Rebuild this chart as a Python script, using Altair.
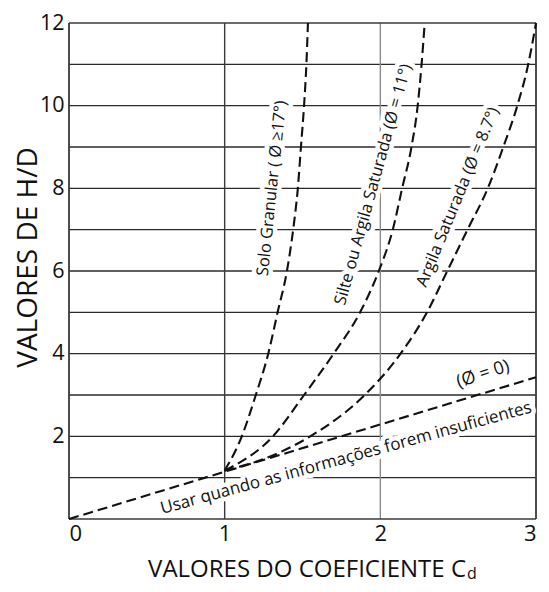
import altair as alt
import pandas as pd

# ---- data ----
solo_x = [1.00, 1.11, 1.20, 1.28, 1.34, 1.40, 1.44, 1.47, 1.49, 1.51, 1.525, 1.535]
solo_y = [1.17, 2, 3, 4, 5, 6, 7, 8, 9, 10, 11, 12]
silte_x = [1.00, 1.31, 1.51, 1.70, 1.87, 1.99, 2.08, 2.14, 2.20, 2.24, 2.265, 2.285]
silte_y = [1.17, 2, 3, 4, 5, 6, 7, 8, 9, 10, 11, 12]
argila_x = [1.00, 1.25, 1.55, 1.90, 2.13, 2.30, 2.43, 2.56, 2.69, 2.79, 2.88, 2.95, 3.00]
argila_y = [1.17, 1.45, 2, 3, 4, 5, 6, 7, 8, 9, 10, 11, 12]
zero_x = [0.0, 3.0]
zero_y = [0.0, 3.43]

h_grid = [1, 2, 3, 4, 5, 6, 7, 8, 9, 10, 11]
v_grid = [1, 2]
v_grid_color = ["#3a3a3a", "#8a8a8a"]

label_text = [
    "Solo Granular ( Ø ≥17°)",
    "Silte ou Argila Saturada (Ø = 11°)",
    "Argila Saturada (Ø = 8.7°)",
    "Usar quando as informações forem insuficientes",
    "(Ø = 0)",
]
label_x = [1.304, 1.955, 2.498, 1.78, 2.66]
label_y = [8.0, 8.09, 7.79, 1.47, 3.50]
label_angle = [276, 285.5, 292.3, 344.6, 341.6]
label_size = [16.5, 16.5, 16.5, 17, 18]

x_ticks = [0, 1, 2, 3]
y_ticks = [2, 4, 6, 8, 10, 12]

FONT = "Open Sans"
PLOT_W = 467

curves = pd.concat([
    pd.DataFrame({"x": solo_x, "y": solo_y, "s": "solo"}),
    pd.DataFrame({"x": silte_x, "y": silte_y, "s": "silte"}),
    pd.DataFrame({"x": argila_x, "y": argila_y, "s": "argila"}),
])
zero = pd.DataFrame({"x": zero_x, "y": zero_y})
hg = pd.DataFrame({"y": h_grid})
vg = pd.DataFrame({"x": v_grid, "c": v_grid_color})
labels = pd.DataFrame({"t": label_text, "x": label_x, "y": label_y,
                       "a": label_angle, "fs": label_size})

xs = alt.Scale(domain=[0, 3], nice=False, zero=False)
ys = alt.Scale(domain=[0, 12], nice=False, zero=False)

xax = alt.Axis(values=x_ticks, grid=False, ticks=False, domain=False, labelFontSize=22,
               labelFont=FONT, labelColor="#111", labelPadding=4, title=None, format="d")
yax = alt.Axis(values=y_ticks, grid=False, ticks=False, domain=False, labelFontSize=21.5,
               labelFont=FONT, labelColor="#111", labelPadding=5,
               title="VALORES DE H/D", titleFont=FONT, titleFontSize=28,
               titleFontWeight="normal", titleColor="#111",
               titleX=-41, titleY=234, titleAngle=270, titleAlign="center",
               titleBaseline="middle", format="d")

base_axes = alt.Chart(zero).mark_point(opacity=0).encode(
    x=alt.X("x:Q", scale=xs, axis=xax),
    y=alt.Y("y:Q", scale=ys, axis=yax),
)

hrules = alt.Chart(hg).mark_rule(color="#2a2a2a", strokeWidth=1.3).encode(
    y=alt.Y("y:Q", scale=ys))
vrules = alt.Chart(vg).mark_rule(strokeWidth=1.4).encode(
    x=alt.X("x:Q", scale=xs), color=alt.Color("c:N", scale=None))

border_v = alt.Chart(pd.DataFrame({"x": [0, 3]})).mark_rule(color="#3a3a3a", strokeWidth=1.8).encode(
    x=alt.X("x:Q", scale=xs))
border_h = alt.Chart(pd.DataFrame({"y": [0, 12]})).mark_rule(color="#3a3a3a", strokeWidth=1.5).encode(
    y=alt.Y("y:Q", scale=ys))

halo = alt.Chart(labels).mark_text(font=FONT, fill="white", stroke="white",
                                   strokeWidth=9, strokeJoin="round").encode(
    x=alt.X("x:Q", scale=xs), y=alt.Y("y:Q", scale=ys), text="t:N",
    angle=alt.Angle("a:Q", scale=None), size=alt.Size("fs:Q", scale=None))

curve_lines = alt.Chart(curves).mark_line(color="#111", strokeWidth=2.1, strokeDash=[10, 5],
                                          interpolate="monotone").encode(
    x=alt.X("x:Q", scale=xs), y=alt.Y("y:Q", scale=ys), detail="s:N")
zero_line = alt.Chart(zero).mark_line(color="#111", strokeWidth=2.1, strokeDash=[10, 5]).encode(
    x=alt.X("x:Q", scale=xs), y=alt.Y("y:Q", scale=ys))

texts = alt.Chart(labels).mark_text(font=FONT, color="#111").encode(
    x=alt.X("x:Q", scale=xs), y=alt.Y("y:Q", scale=ys), text="t:N",
    angle=alt.Angle("a:Q", scale=None), size=alt.Size("fs:Q", scale=None))

xtitle_main = alt.Chart(pd.DataFrame({"t": ["VALORES DO COEFICIENTE C"]})).mark_text(
    font=FONT, fontSize=24, color="#111", align="right", baseline="alphabetic").encode(
    x=alt.value(397), y=alt.value(554), text="t:N")
xtitle_sub = alt.Chart(pd.DataFrame({"t": ["d"]})).mark_text(
    font=FONT, fontSize=16, color="#111", align="left", baseline="alphabetic").encode(
    x=alt.value(398), y=alt.value(556), text="t:N")

chart = alt.layer(
    base_axes, hrules, vrules, border_v, border_h, halo, curve_lines, zero_line, texts,
    xtitle_main, xtitle_sub,
).properties(
    width=PLOT_W, height=496,
    autosize=alt.AutoSizeParams(type="none"),
    padding={"left": 61, "top": 15, "right": 5, "bottom": 65},
).configure_view(stroke=None)

chart.save("out.html", embed_options={"renderer": "svg", "actions": False})
